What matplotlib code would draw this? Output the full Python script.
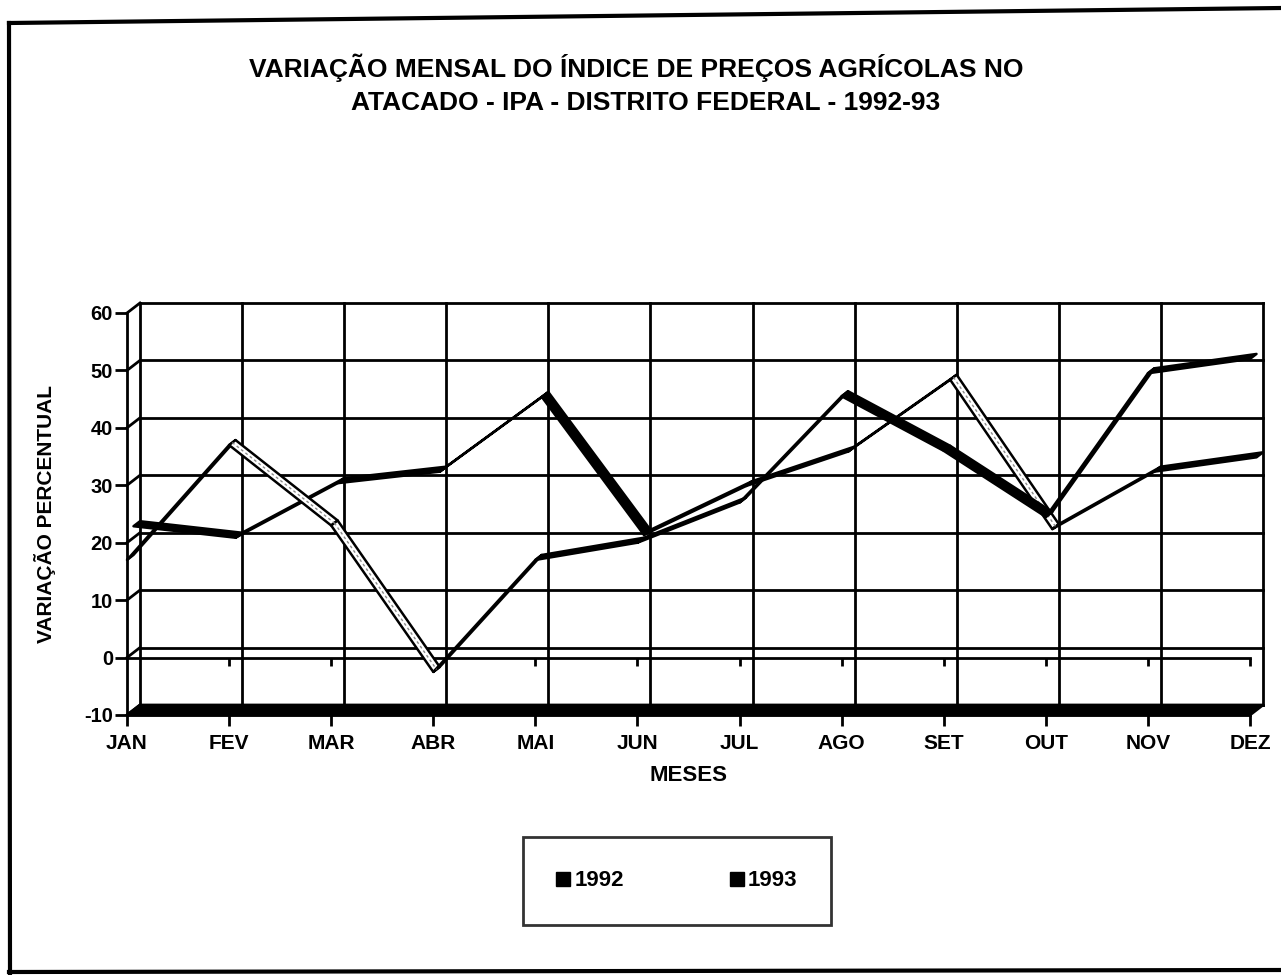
import numpy as np
import matplotlib.pyplot as plt
from matplotlib.patches import Polygon
from matplotlib.lines import Line2D

# fonte parecida com Arial negrito
plt.rcParams['font.family'] = ['Liberation Sans', 'DejaVu Sans']
plt.rcParams['font.weight'] = 'bold'
plt.rcParams['axes.labelweight'] = 'bold'

# dados
meses = ['JAN', 'FEV', 'MAR', 'ABR', 'MAI', 'JUN', 'JUL', 'AGO', 'SET', 'OUT', 'NOV', 'DEZ']
ipa_1992 = [17, 37, 23, -2.5, 17, 20, 27, 45.5, 36, 24.5, 49.5, 52]
ipa_1993 = [22, 20, 29.5, 31.5, 44.5, 20.5, 29, 35, 47.5, 21.5, 31.5, 34]
y_ticks = [-10, 0, 10, 20, 30, 40, 50, 60]
series_names = ['1992', '1993']

# deslocamento 3D (parede do fundo), em unidades dos dados
dx, dy = 0.127, 1.74

W, H = 1281, 975
fig = plt.figure(figsize=(W / 100, H / 100), dpi=100)
ax = fig.add_axes([127 / W, (H - 715) / H, 1123 / W, 402 / H])
ax.set_xlim(0, 11)
ax.set_ylim(-10, 60)
x = np.arange(len(meses))

# eixos frontais
for s in ['top', 'right']:
    ax.spines[s].set_visible(False)
ax.spines['left'].set_linewidth(2)
ax.spines['bottom'].set_linewidth(2)
ax.set_xticks(x)
ax.set_xticklabels(meses, fontsize=15)
ax.set_yticks(y_ticks)
ax.set_yticklabels([str(v) for v in y_ticks], fontsize=14.5)
ax.tick_params(axis='y', direction='out', length=9, width=2, pad=1)
ax.tick_params(axis='x', direction='out', length=8, width=2, pad=6)
ax.set_xlabel('MESES', fontsize=16, labelpad=8)
ax.set_ylabel('VARIAÇÃO PERCENTUAL', fontsize=15, labelpad=20)

# parede do fundo com grade
bx = x + dx
for v in y_ticks:
    ax.plot([bx[0], bx[-1]], [v + dy, v + dy], color='black', lw=2, clip_on=False, zorder=1)
    ax.plot([0, dx], [v, v + dy], color='black', lw=2, clip_on=False, zorder=1)
for xi in bx:
    ax.plot([xi, xi], [-10 + dy, 60 + dy], color='black', lw=2, clip_on=False, zorder=1)

# piso (faixa preta)
ax.add_patch(Polygon([(0, -10), (11, -10), (11 + dx, -10 + dy), (dx, -10 + dy)],
                     closed=True, fc='black', ec='black', lw=2, clip_on=False, zorder=2))

# linha do zero frontal com marcas
ax.plot([0, 11], [0, 0], color='black', lw=2, clip_on=False, zorder=3)
ax.vlines(x[1:], -1.4, 0, color='black', lw=2, clip_on=False, zorder=3)


def ribbon(values, d0, d1, hollow, z):
    v = np.asarray(values, dtype=float)
    for i in range(len(v) - 1):
        pts = [(x[i] + d0 * dx, v[i] + d0 * dy), (x[i + 1] + d0 * dx, v[i + 1] + d0 * dy),
               (x[i + 1] + d1 * dx, v[i + 1] + d1 * dy), (x[i] + d1 * dx, v[i] + d1 * dy)]
        fc = 'white' if i in hollow else 'black'
        ax.add_patch(Polygon(pts, closed=True, fc=fc, ec='black', lw=1.8,
                             joinstyle='round', clip_on=False, zorder=z))
        if i in hollow:
            dm = (d0 + d1) / 2
            ax.plot([x[i] + dm * dx, x[i + 1] + dm * dx], [v[i] + dm * dy, v[i + 1] + dm * dy],
                    color='0.55', lw=1, ls=(0, (2, 2)), clip_on=False, zorder=z + 0.1)


ribbon(ipa_1993, 0.5, 1.0, hollow={8}, z=4)
ribbon(ipa_1992, 0.0, 0.5, hollow={1, 2}, z=5)

# titulo
fig.text(636 / W, 1 - 77 / H, 'VARIAÇÃO MENSAL DO ÍNDICE DE PREÇOS AGRÍCOLAS NO',
         ha='center', va='baseline', fontsize=19)
fig.text(646 / W, 1 - 110 / H, 'ATACADO - IPA - DISTRITO FEDERAL - 1992-93',
         ha='center', va='baseline', fontsize=19)

# legenda
handles = [Line2D([], [], marker='s', ls='none', color='black', markersize=10) for _ in series_names]
leg = fig.legend(handles, series_names, loc='center', bbox_to_anchor=(677 / W, 1 - 881 / H),
                 ncol=2, frameon=True, fancybox=False, edgecolor='black', fontsize=16,
                 borderpad=1.5, handlelength=0.6, handletextpad=0.2, columnspacing=4.8)
leg.get_frame().set_linewidth(2)

# moldura da pagina
fig.add_artist(Line2D([9 / W, 1], [1 - 23 / H, 1 - 8 / H], color='black', lw=3))
fig.add_artist(Line2D([9 / W, 10 / W], [1 - 23 / H, 0], color='black', lw=3))
fig.add_artist(Line2D([9 / W, 1], [1 - 972 / H, 1 - 970 / H], color='black', lw=3))

fig.savefig('out.png', dpi=100)
